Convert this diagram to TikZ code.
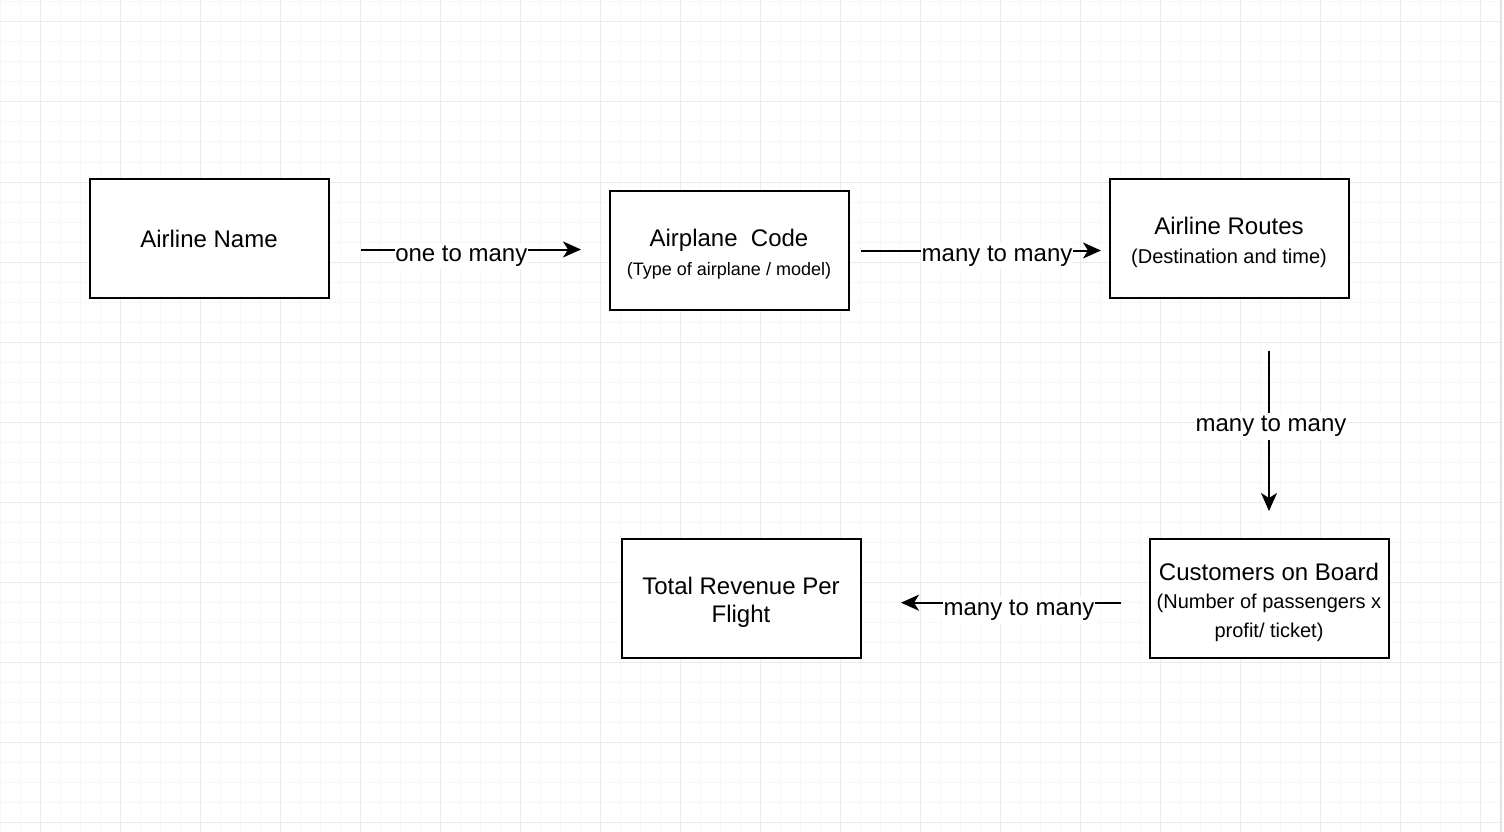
\documentclass[tikz,border=0pt]{standalone}
\usepackage{fontspec}
\setmainfont{Liberation Sans}
\usetikzlibrary{arrows.meta}
\definecolor{gridminor}{HTML}{F6F6F6}
\definecolor{gridmajor}{HTML}{EBEBEB}
\definecolor{gridedge}{HTML}{E3E3E3}
\newcommand{\toppad}{\rule{0pt}{25pt}}
\begin{document}
\begin{tikzpicture}[x=1pt,y=-1pt,
  minorline/.style={draw=gridminor,line width=1pt},
  majorline/.style={draw=gridmajor,line width=1pt},
  box/.style={draw=black,line width=2pt,fill=white,minimum width=239pt,minimum height=119pt,
    inner sep=0pt,align=center,font=\fontsize{24pt}{28.5pt}\selectfont},
  conn/.style={line width=2pt,-{Stealth[length=18pt,width=16pt,inset=5pt]}},
  lbl/.style={fill=white,inner xsep=0.5pt,inner ysep=3pt,anchor=base,
    font=\fontsize{24pt}{28pt}\selectfont}
]
\useasboundingbox (0,0) rectangle (1504,832);
\fill[white] (0,0) rectangle (1504,832);
% grid
\foreach \x in {0,20,...,1500} \draw[minorline] (\x,0) -- (\x,832);
\foreach \y in {2,22,...,822} \draw[minorline] (0,\y) -- (1501,\y);
\foreach \x in {40,120,...,1480} \draw[majorline] (\x,0) -- (\x,832);
\foreach \y in {22,102,...,822} \draw[majorline] (0,\y) -- (1501,\y);
\draw[draw=gridedge,line width=1.5pt] (1501,0) -- (1501,832);

% boxes
\node[box] (name) at (209,238.5) {Airline Name};
\node[box] (code) at (729,250.5) {\toppad Airplane\ \ Code\\{\fontsize{18pt}{21.6pt}\selectfont (Type of airplane / model)}};
\node[box] (routes) at (1229,238.5) {\toppad Airline Routes\\{\fontsize{20pt}{24pt}\selectfont (Destination and time)}};
\node[box] (cust) at (1269,598.5) {\toppad Customers on Board\\{\fontsize{20pt}{24pt}\selectfont (Number of passengers x}\\{\fontsize{20pt}{24pt}\selectfont profit/ ticket)}};
\node[box] (rev) at (741,598.5) {\toppad Total Revenue Per\\Flight};

% connector end points
\coordinate (c1s) at (361,249.5);
\coordinate (c1e) at (581,249.5);
\coordinate (c2s) at (861,250.5);
\coordinate (c2e) at (1101,250.5);
\coordinate (c3s) at (1269,351);
\coordinate (c3e) at (1269,511);
\coordinate (c4s) at (1121,602.7);
\coordinate (c4e) at (901,602.7);

\draw[conn] (c1s) -- node[lbl,pos=0.456,yshift=-12pt]{one to many} (c1e);
\draw[conn] (c2s) -- node[lbl,pos=0.567,yshift=-10.5pt]{many to many} (c2e);
\draw[conn] (c3s) -- node[lbl,pos=0.506,xshift=2pt]{many to many} (c3e);
\draw[conn] (c4s) -- node[lbl,pos=0.4636,yshift=-13pt]{many to many} (c4e);
\end{tikzpicture}
\end{document}
